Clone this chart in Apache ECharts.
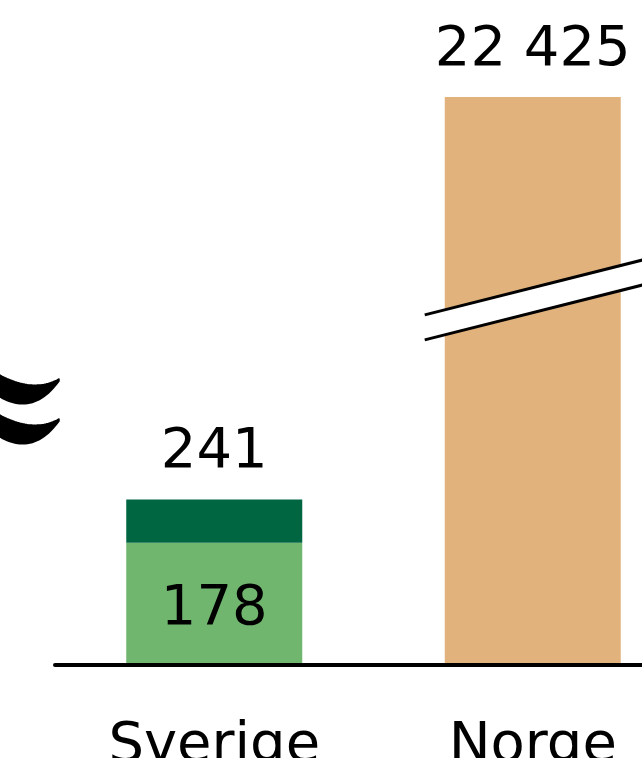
<!DOCTYPE html>
<html><head><meta charset="utf-8">
<script src="https://cdn.jsdelivr.net/npm/echarts@6/dist/echarts.min.js"></script>
<style>html,body{margin:0;padding:0;background:#fff}#c{width:642px;height:758px}</style>
</head><body><div id="c"></div>
<script>
const categories = ['Sverige', 'Norge'];
const baseValues = [178, 22425];
const topValues = [63, null];
const totals = [241, 22425];
const barColors = ['#71B66F', '#E1B27C'];
const topColor = '#006642';
const breakStart = 513, breakEnd = 22111;

function fmt(v){ return String(v).replace(/\B(?=(\d{3})+(?!\d))/g, ' '); }
const FONT = 'DejaVu Sans';
const chart = echarts.init(document.getElementById('c'), null, {renderer:'canvas'});
const lbl = {fontFamily:FONT, fontSize:56, color:'#000'};
chart.setOption({
  animation:false,
  grid:{left:55, right:-50, top:97, bottom:93, outerBoundsMode:'none', containLabel:false},
  xAxis:{type:'category', data:categories, z:5,
    axisLine:{lineStyle:{color:'#000', width:4}}, axisTick:{show:false},
    axisLabel:{fontFamily:FONT, fontSize:56, color:'#000', margin:53}},
  yAxis:{type:'value', min:0, max:22425,
    breaks:[{start:breakStart, end:breakEnd, gap:0}],
    breakArea:{show:false}, axisLine:{show:false}, axisTick:{show:false}, axisLabel:{show:false}, splitLine:{show:false}},
  series:[
    {type:'bar', stack:'a', barWidth:176, label:lbl,
     data: baseValues.map((v,i)=>({value:v, itemStyle:{color:barColors[i]},
       label: i===0 ? {show:true, position:'inside', offset:[0,6], formatter: fmt(v)}
                    : {show:true, position:'top', distance:19, formatter: fmt(totals[i])}}))},
    {type:'bar', stack:'a', barWidth:176, label:lbl, itemStyle:{color:topColor},
     data: topValues.map((v,i)=> v==null ? '-' : {value:v,
       label:{show:true, position:'top', distance:19, formatter: fmt(totals[i])}})}
  ]
});

const xc = chart.convertToPixel({xAxisIndex:0}, 'Norge');
const yb = chart.convertToPixel({yAxisIndex:0}, breakStart);
const yt = yb - 25;
const slope = -0.252;
const x0 = xc - 108, x1 = xc + 200;
const f = (x, yc) => yc + slope * (x - xc);

function quad(p0, p1, p2, n){
  const pts = [];
  for (let k = 0; k <= n; k++){
    const t = k / n, a = (1-t)*(1-t), b = 2*t*(1-t), c = t*t;
    pts.push([a*p0[0]+b*p1[0]+c*p2[0], a*p0[1]+b*p1[1]+c*p2[1]]);
  }
  return pts;
}
function crescent(dy){
  const top = quad([-15,366+dy],[28,396+dy],[59,379+dy],30);
  const bot = quad([59,381+dy],[28,424+dy],[-15,386+dy],30);
  return top.concat(bot);
}
chart.setOption({
  graphic:[
    {type:'polygon', z:100, shape:{points:[[x0,f(x0,yt)],[x1,f(x1,yt)],[x1,f(x1,yb)],[x0,f(x0,yb)]]}, style:{fill:'#fff'}},
    {type:'line', z:101, shape:{x1:x0, y1:f(x0,yt), x2:x1, y2:f(x1,yt)}, style:{stroke:'#000', lineWidth:3}},
    {type:'line', z:101, shape:{x1:x0, y1:f(x0,yb), x2:x1, y2:f(x1,yb)}, style:{stroke:'#000', lineWidth:3}},
    {type:'polygon', z:101, shape:{points:crescent(0)}, style:{fill:'#000', stroke:'#000', lineWidth:1.5, lineJoin:'round'}},
    {type:'polygon', z:101, shape:{points:crescent(40)}, style:{fill:'#000', stroke:'#000', lineWidth:1.5, lineJoin:'round'}}
  ]
});
</script>
</body></html>
